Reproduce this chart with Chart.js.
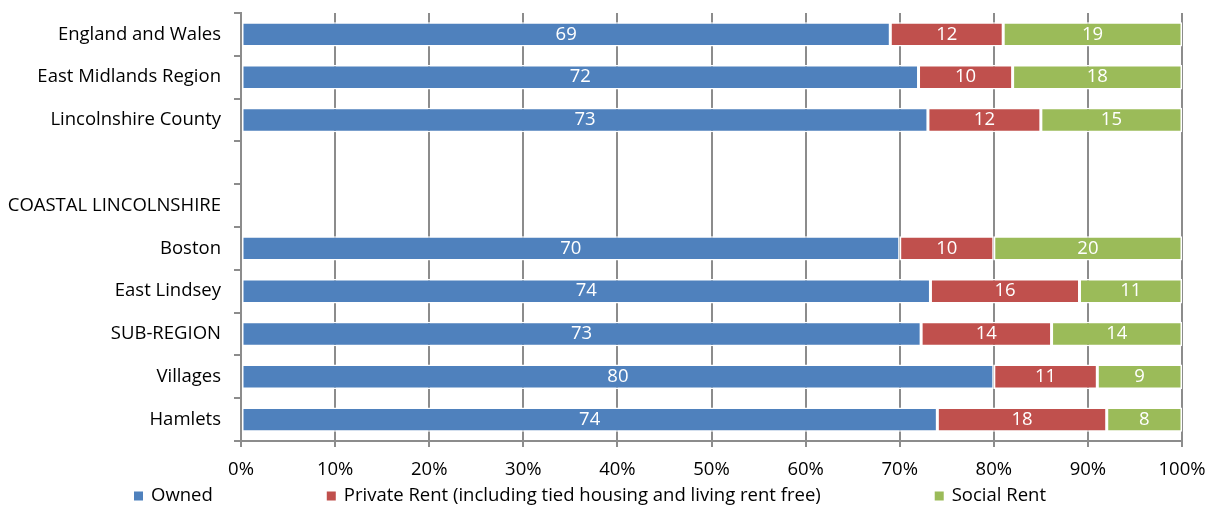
<!DOCTYPE html>
<html>
<head>
<meta charset="utf-8">
<script src="https://cdn.jsdelivr.net/npm/chart.js@4/dist/chart.umd.min.js"></script>
<style>
  html, body { margin: 0; padding: 0; background: #fff; }
  #wrap { width: 1216px; height: 506px; }
</style>
</head>
<body>
<div id="wrap"><canvas id="c" width="1216" height="506"></canvas></div>
<script>
// Housing tenure by area (percent of households)
const areas = [
  'England and Wales', 'East Midlands Region', 'Lincolnshire County', '',
  'COASTAL LINCOLNSHIRE', 'Boston', 'East Lindsey', 'SUB-REGION', 'Villages', 'Hamlets'
];
const owned       = [69, 72, 73, null, null, 70, 74, 73, 80, 74];
const privateRent = [12, 10, 12, null, null, 10, 16, 14, 11, 18];
const socialRent  = [19, 18, 15, null, null, 20, 11, 14,  9,  8];
const seriesNames = ['Owned', 'Private Rent (including tied housing and living rent free)', 'Social Rent'];
const seriesColors = ['#4F81BD', '#C0504D', '#9BBB59'];
const xTicks = [0, 10, 20, 30, 40, 50, 60, 70, 80, 90, 100];

const FONT = '"Open Sans", "Liberation Sans", sans-serif';
const FONT_SIZE = 18.5;
const raw = [owned, privateRent, socialRent];

// 100% stacking: each row's segments are scaled to fill the full width
const totals = areas.map((_, i) => raw.reduce((s, a) => s + (a[i] || 0), 0));
const share = arr => arr.map((v, i) => v == null ? null : v / totals[i] * 100);

const datasets = raw.map((arr, k) => ({
  label: seriesNames[k],
  data: share(arr),
  rawValues: arr,
  backgroundColor: seriesColors[k],
  borderColor: '#ffffff',
  borderWidth: 1.5,
  borderSkipped: false,
  barPercentage: 0.57,
  categoryPercentage: 1.0
}));

// White value labels centred in each segment
const valueLabels = {
  id: 'valueLabels',
  afterDatasetsDraw(chart) {
    const ctx = chart.ctx;
    ctx.save();
    ctx.font = FONT_SIZE + 'px ' + FONT;
    ctx.fillStyle = '#ffffff';
    ctx.textAlign = 'center';
    ctx.textBaseline = 'middle';
    chart.data.datasets.forEach((ds, di) => {
      chart.getDatasetMeta(di).data.forEach((bar, i) => {
        const v = ds.rawValues[i];
        if (v == null) return;
        const cx = (bar.x + bar.base) / 2;
        ctx.fillText(String(v), cx, bar.y);
      });
    });
    ctx.restore();
  }
};

// Legend row along the bottom edge
const bottomLegend = {
  id: 'bottomLegend',
  afterDraw(chart, args, opts) {
    const ctx = chart.ctx;
    ctx.save();
    ctx.font = FONT_SIZE + 'px ' + FONT;
    ctx.textBaseline = 'middle';
    ctx.textAlign = 'left';
    let x = opts.startX;
    const y = opts.y;
    chart.data.datasets.forEach(ds => {
      ctx.fillStyle = ds.backgroundColor;
      ctx.fillRect(x, y - opts.box / 2, opts.box, opts.box);
      x += opts.box + opts.boxGap;
      ctx.fillStyle = '#000';
      ctx.fillText(ds.label, x, y);
      x += ctx.measureText(ds.label).width + opts.itemGap;
    });
    ctx.restore();
  }
};

new Chart(document.getElementById('c'), {
  type: 'bar',
  data: { labels: areas, datasets },
  plugins: [valueLabels, bottomLegend],
  options: {
    indexAxis: 'y',
    responsive: false,
    animation: false,
    layout: { padding: { top: 13, right: 34, left: 0, bottom: 0 } },
    plugins: {
      legend: { display: false },
      tooltip: { enabled: false },
      bottomLegend: { startX: 134, y: 496, box: 9, boxGap: 8, itemGap: 114 }
    },
    scales: {
      x: {
        stacked: true,
        min: 0, max: 100,
        afterBuildTicks: s => { s.ticks = xTicks.map(v => ({ value: v })); },
        afterFit: s => { s.height = 65; s.paddingLeft = 0; s.paddingRight = 0; },
        grid: { color: '#8c8c8c', lineWidth: 2, tickLength: 6, drawTicks: true },
        border: { color: '#8c8c8c', width: 2 },
        ticks: {
          color: '#000',
          font: { family: FONT, size: FONT_SIZE },
          padding: 12,
          maxRotation: 0,
          callback: v => v + '%'
        }
      },
      y: {
        stacked: true,
        afterFit: s => { s.width = 241; s.paddingTop = 0; s.paddingBottom = 0; },
        grid: { offset: true, drawOnChartArea: false, color: '#8c8c8c', lineWidth: 2, tickLength: 7 },
        border: { color: '#8c8c8c', width: 2 },
        ticks: {
          color: '#000',
          font: { family: FONT, size: FONT_SIZE },
          padding: 13,
          autoSkip: false
        }
      }
    }
  }
});
</script>
</body>
</html>
